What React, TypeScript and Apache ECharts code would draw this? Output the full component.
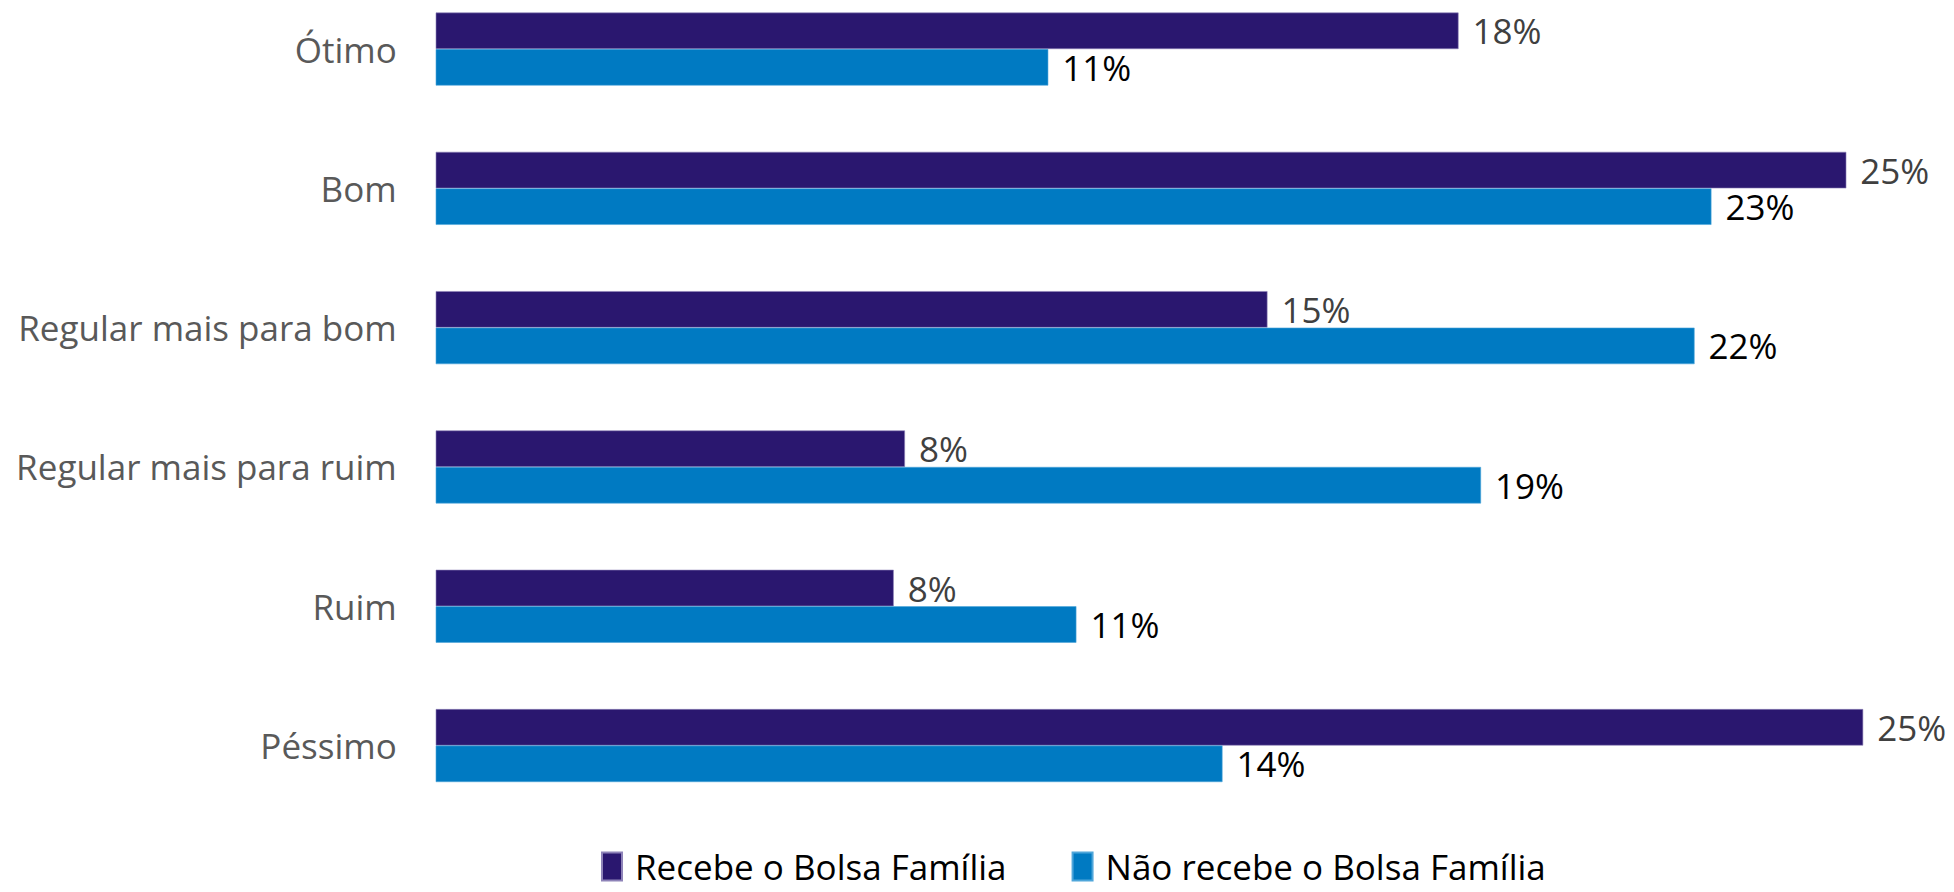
import React, { useEffect, useRef } from "react";
import * as echarts from "echarts";

const categories = [
  "Ótimo",
  "Bom",
  "Regular mais para bom",
  "Regular mais para ruim",
  "Ruim",
  "Péssimo",
];
const seriesNames = ["Recebe o Bolsa Família", "Não recebe o Bolsa Família"];
const recebe = [18.2, 25.1, 14.8, 8.35, 8.15, 25.4];
const naoRecebe = [10.9, 22.7, 22.4, 18.6, 11.4, 14.0];

const FONT = "'Segoe UI', 'Open Sans', sans-serif";
const SHIFT = 30; // chart canvas starts above the page so the first band can begin above y=0

export default function App() {
  const ref = useRef<HTMLDivElement>(null);
  useEffect(() => {
    if (!ref.current) return;
    const chart = echarts.init(ref.current, undefined, { renderer: "svg" });
    const labelFmt = (p: any) => Math.round(p.value) + "%";
    chart.setOption({
      animation: false,
      backgroundColor: "#ffffff",
      textStyle: { fontFamily: FONT },
      grid: { left: 435.7, top: -20.6 + SHIFT, height: 835.8, width: 1517.4, containLabel: false },
      legend: {
        data: seriesNames,
        left: 596,
        top: 844 + SHIFT,
        itemWidth: 20,
        itemHeight: 28,
        itemGap: 65,
        icon: "rect",
        textStyle: { fontFamily: FONT, fontSize: 35, color: "#000000", padding: [0, 0, 0, 8] },
      },
      xAxis: {
        type: "value",
        min: 0,
        max: 27,
        show: false,
        splitLine: { show: false },
      },
      yAxis: {
        type: "category",
        data: categories,
        inverse: true,
        axisLine: { show: false },
        axisTick: { show: false },
        axisLabel: { fontFamily: FONT, fontSize: 35, color: "#595959", margin: 39 },
      },
      series: [
        {
          name: seriesNames[0],
          type: "bar",
          data: recebe,
          barWidth: 36.5,
          barGap: "0%",
          itemStyle: { color: "#2A176F", borderColor: "#8E83B8", borderWidth: 0.6 },
          label: {
            show: true,
            position: "right",
            distance: 14,
            formatter: labelFmt,
            fontFamily: FONT,
            fontSize: 35,
            color: "#404040",
          },
        },
        {
          name: seriesNames[1],
          type: "bar",
          data: naoRecebe,
          barWidth: 36.5,
          barGap: "0%",
          itemStyle: { color: "#007AC2", borderColor: "#4FA6DA", borderWidth: 0.6 },
          label: {
            show: true,
            position: "right",
            distance: 14,
            formatter: labelFmt,
            fontFamily: FONT,
            fontSize: 35,
            color: "#000000",
          },
        },
      ],
    });
    return () => chart.dispose();
  }, []);
  return (
    <div
      ref={ref}
      style={{ position: "absolute", left: 0, top: -SHIFT, width: 1954, height: 892 + SHIFT }}
    />
  );
}
